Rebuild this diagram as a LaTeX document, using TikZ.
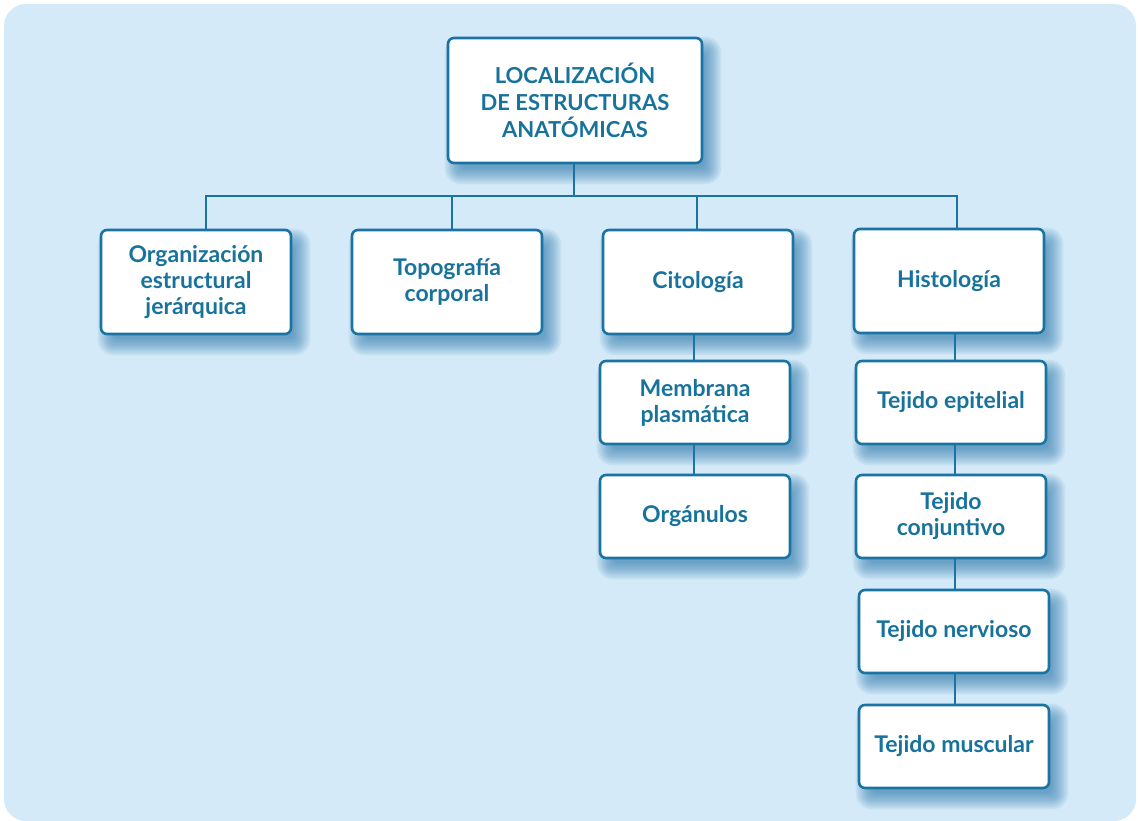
\documentclass[tikz,border=0pt]{standalone}
\usepackage{fontspec}
\setmainfont{Lato}
\definecolor{bgc}{HTML}{D4EAF8}
\definecolor{linec}{HTML}{1A73A0}
\definecolor{textc}{HTML}{17739C}
\definecolor{shadowc}{HTML}{1C6DA6}
\pgfdeclarelayer{bglayer}
\pgfdeclarelayer{shadowlayer}
\pgfsetlayers{bglayer,shadowlayer,main}
\tikzset{
  box/.style={draw=linec, line width=2.6pt, fill=white, rounded corners=6pt,
    align=center, text=textc, font=\fontsize{23}{26}\selectfont\bfseries,
    inner sep=0pt},
  lvl/.style={box, minimum width=190pt, minimum height=104pt},
  sub/.style={box, minimum width=190pt, minimum height=83pt},
  conn/.style={draw=linec, line width=1.6pt},
  conn2/.style={draw=linec, line width=2.2pt},
  shadowlayerstyle/.style={fill=shadowc, fill opacity=0.085}
}
\newcommand\boxshadow[1]{%
  \foreach \r in {-6,-4,...,10} {%
    \fill[shadowlayerstyle, rounded corners={6pt+max(\r,0)*1pt}]
      ([shift={(8-\r,10-\r)}]#1.north west) rectangle ([shift={(8+\r,10+\r)}]#1.south east);
  }%
}
\begin{document}
\begin{tikzpicture}[x=1pt,y=-1pt]
\useasboundingbox (0,0) rectangle (1138,821);
\begin{pgfonlayer}{bglayer}
\fill[bgc, rounded corners=22pt] (4,4) rectangle (1136,821);
\end{pgfonlayer}
\node[box, minimum width=254pt, minimum height=125pt, font=\fontsize{22}{27}\selectfont\bfseries] (top) at (575,100.5) {LOCALIZACIÓN\\DE ESTRUCTURAS\\ANATÓMICAS};
\node[lvl] (org) at (196,282) {Organización\\estructural\\jerárquica};
\node[lvl] (topo) at (447,282) {Topografía\\corporal};
\node[lvl] (cito) at (698,282) {Citología};
\node[lvl] (histo) at (949,281) {Histología};
\node[sub] (memb) at (695,402.5) {Membrana\\plasmática};
\node[sub] (organ) at (695,516.5) {Orgánulos};
\node[sub] (epi) at (951,402.5) {Tejido epitelial};
\node[sub] (conj) at (951,516.5) {Tejido\\conjuntivo};
\node[sub] (nerv) at (954,631.5) {Tejido nervioso};
\node[sub] (musc) at (954,746.5) {Tejido muscular};
\begin{pgfonlayer}{shadowlayer}
\foreach \n in {top,org,topo,cito,histo,memb,organ,epi,conj,nerv,musc} {\boxshadow{\n}}
\end{pgfonlayer}
\coordinate (b0) at (574,196);
\coordinate (b1) at (206,196);
\coordinate (b2) at (452,196);
\coordinate (b3) at (697,196);
\coordinate (b4) at (957,196);
\coordinate (cx) at (694,0);
\coordinate (hx) at (955,0);
\draw[conn] (b0 |- top.south) -- (b0);
\draw[conn] (b1 |- org.north) -- (b1) -- (b4) -- (b4 |- histo.north);
\draw[conn] (b2) -- (b2 |- topo.north);
\draw[conn] (b3) -- (b3 |- cito.north);
\draw[conn2] (cx |- cito.south) -- (cx |- memb.north);
\draw[conn2] (cx |- memb.south) -- (cx |- organ.north);
\draw[conn] (hx |- histo.south) -- (hx |- epi.north);
\draw[conn] (hx |- epi.south) -- (hx |- conj.north);
\draw[conn] (hx |- conj.south) -- (hx |- nerv.north);
\draw[conn] (hx |- nerv.south) -- (hx |- musc.north);
\end{tikzpicture}
\end{document}
